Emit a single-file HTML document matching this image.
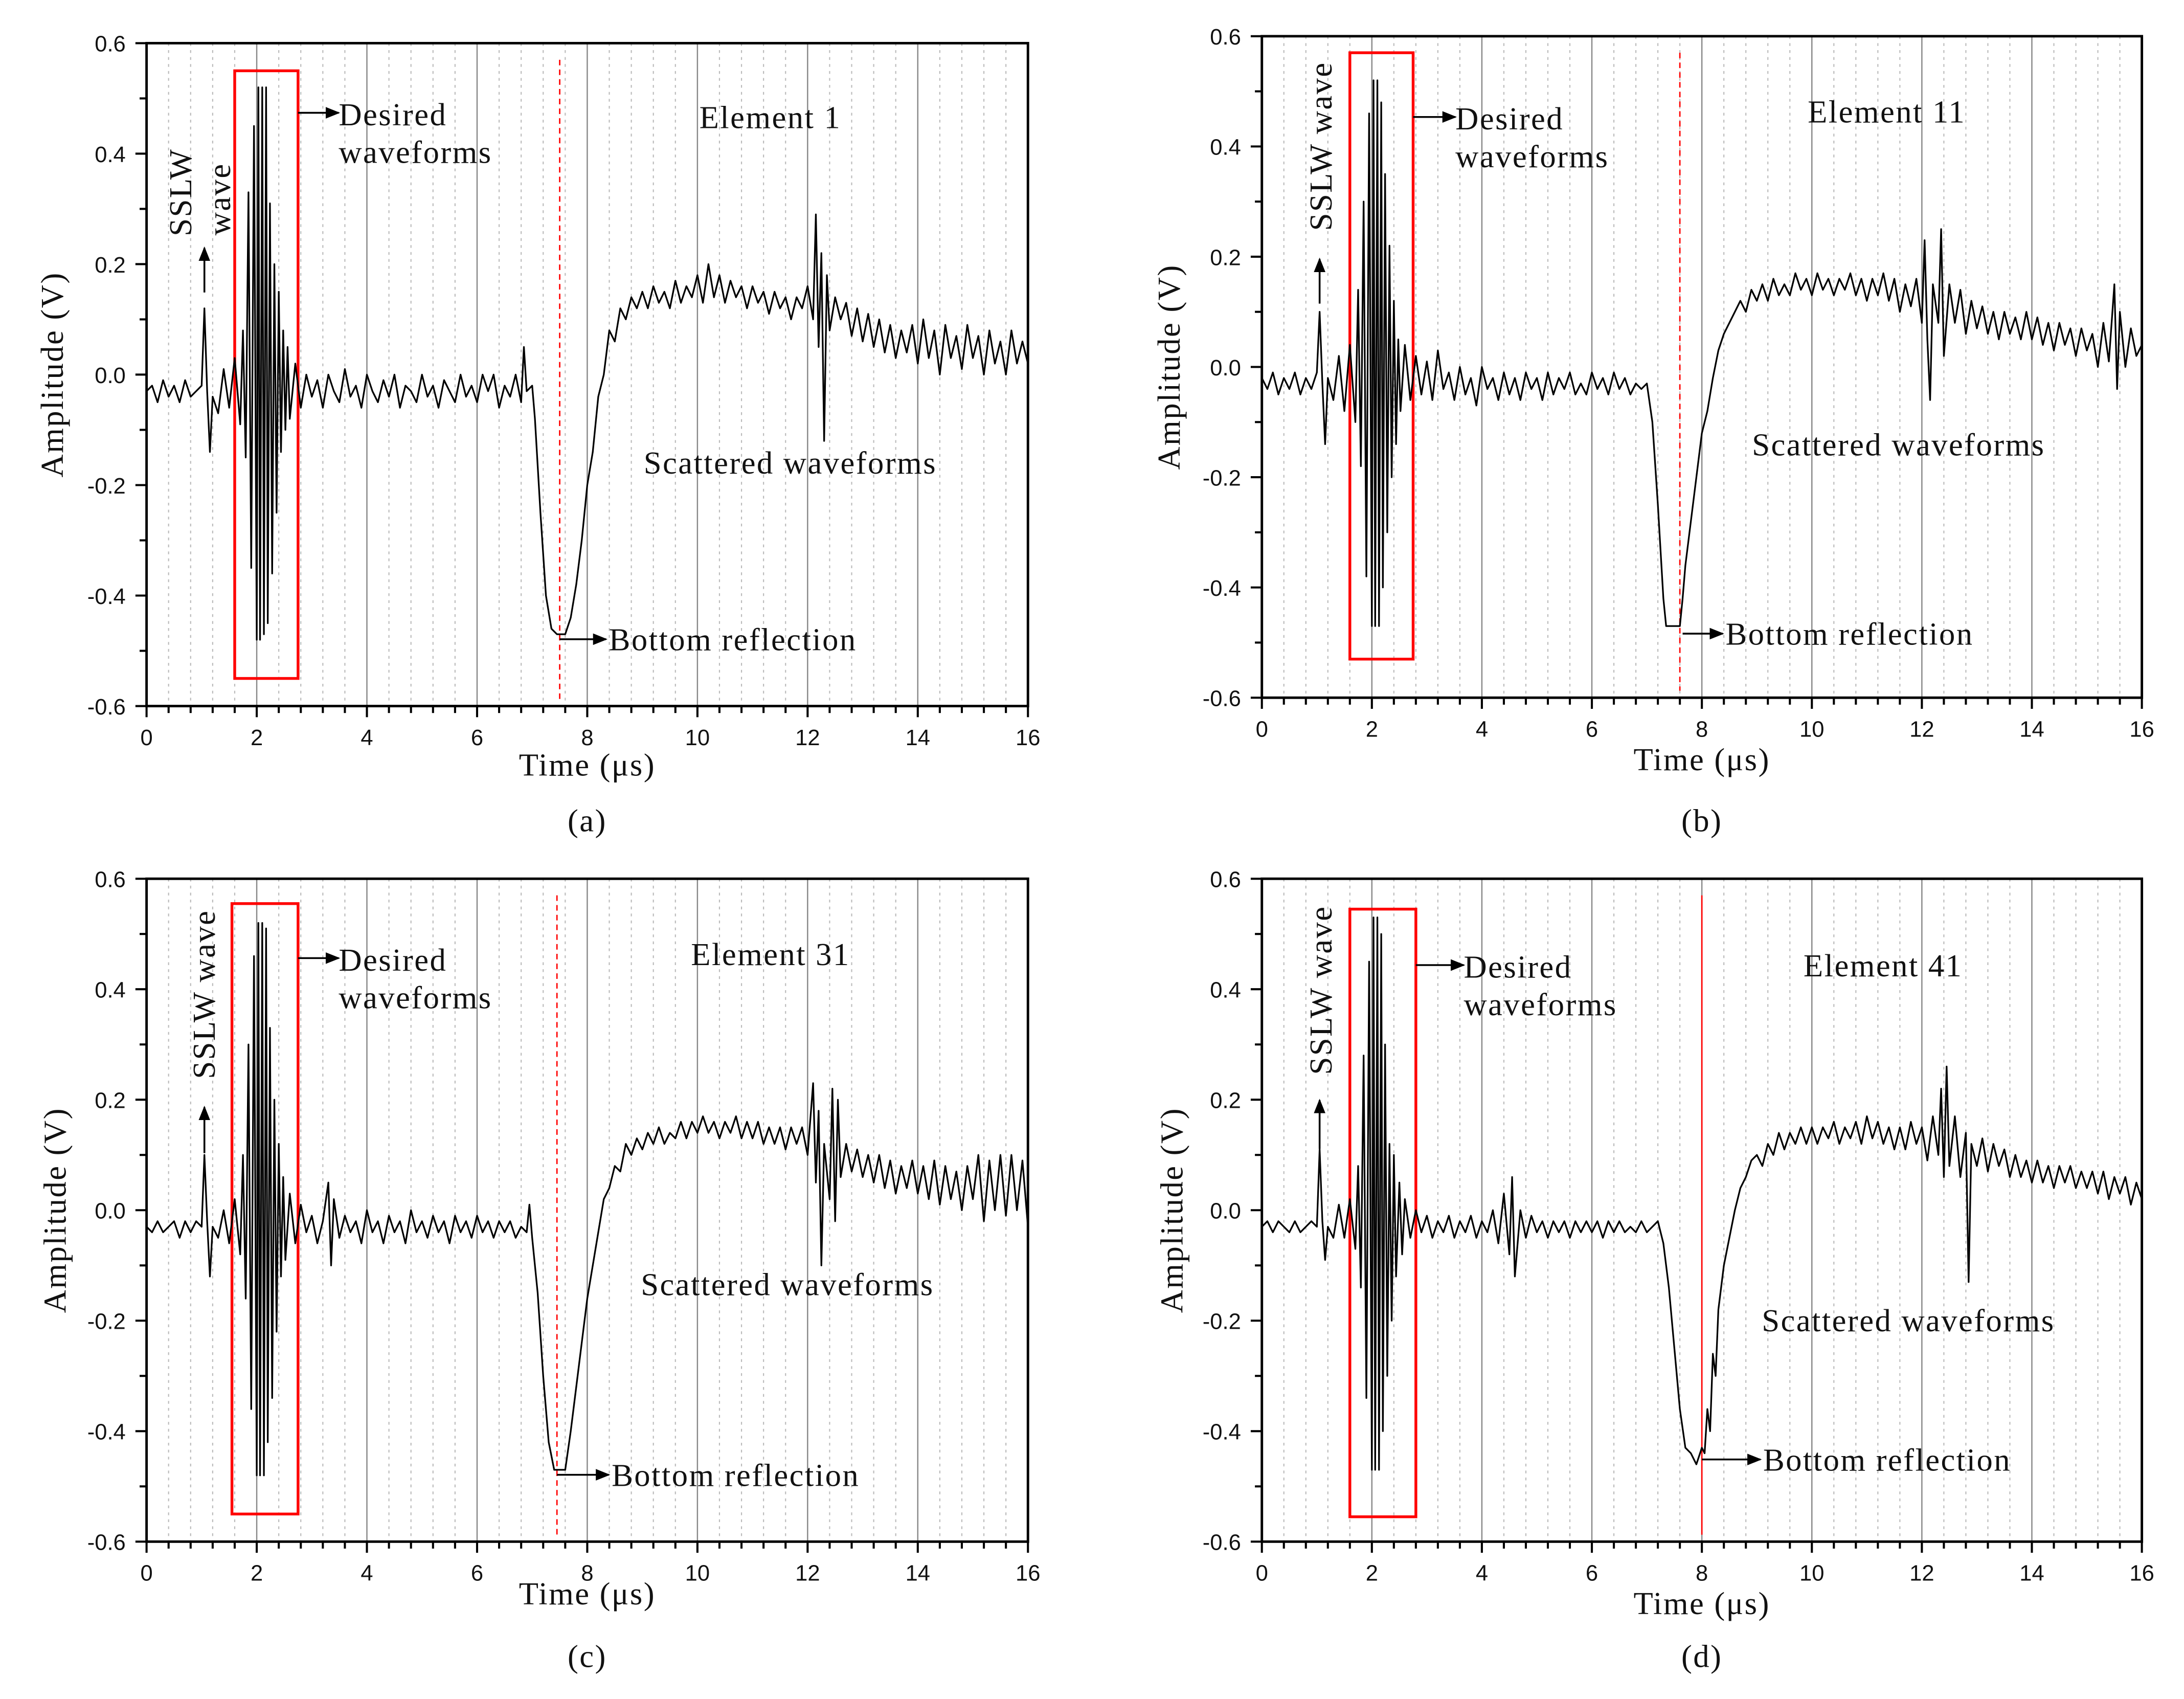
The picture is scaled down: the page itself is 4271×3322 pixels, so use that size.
<!DOCTYPE html>
<html><head><meta charset="utf-8"><style>
html,body{margin:0;padding:0;background:#fff;}
svg{display:block;}
.ser{font-family:"Liberation Serif",serif;fill:#111;letter-spacing:0.9px;}
.tk{font-family:"Liberation Sans",sans-serif;fill:#111;font-size:16px;}
</style></head><body>
<svg id="fig" width="4271" height="3322" viewBox="0 0 1568 1220" xmlns="http://www.w3.org/2000/svg">
<defs><marker id="ah" viewBox="0 0 10 10" refX="9" refY="5" markerWidth="8" markerHeight="8" orient="auto"><path d="M0,1 L10,5 L0,9 z" fill="#000"/></marker></defs>
</svg>
<script>
const xTicks=[0,2,4,6,8,10,12,14,16];
const yTicks=[-0.6,-0.4,-0.2,0.0,0.2,0.4,0.6];
const waveA=[[0,-0.03],[0.1,-0.02],[0.2,-0.05],[0.3,-0.01],[0.4,-0.04],[0.5,-0.02],[0.6,-0.05],[0.7,-0.01],[0.8,-0.04],[0.9,-0.03],[1.0,-0.02],[1.05,0.12],[1.1,-0.03],[1.15,-0.14],[1.2,-0.04],[1.3,-0.07],[1.4,0.01],[1.5,-0.06],[1.6,0.03],[1.7,-0.09],[1.75,0.08],[1.8,-0.15],[1.85,0.33],[1.9,-0.35],[1.95,0.45],[2.0,-0.48],[2.03,0.52],[2.06,-0.48],[2.1,0.52],[2.13,-0.47],[2.17,0.52],[2.2,-0.45],[2.24,0.31],[2.28,-0.36],[2.32,0.2],[2.36,-0.25],[2.4,0.15],[2.44,-0.14],[2.48,0.08],[2.52,-0.1],[2.56,0.05],[2.6,-0.08],[2.7,0.02],[2.8,-0.06],[2.9,0.0],[3.0,-0.04],[3.1,-0.01],[3.2,-0.06],[3.3,0.0],[3.4,-0.03],[3.5,-0.05],[3.6,0.01],[3.7,-0.04],[3.8,-0.02],[3.9,-0.06],[4.0,0.0],[4.1,-0.03],[4.2,-0.05],[4.3,-0.01],[4.4,-0.04],[4.5,0.0],[4.6,-0.06],[4.7,-0.02],[4.8,-0.03],[4.9,-0.05],[5.0,0.0],[5.1,-0.04],[5.2,-0.02],[5.3,-0.06],[5.4,-0.01],[5.5,-0.03],[5.6,-0.05],[5.7,0.0],[5.8,-0.04],[5.9,-0.02],[6.0,-0.05],[6.1,0.0],[6.2,-0.03],[6.3,0.0],[6.4,-0.06],[6.5,-0.02],[6.6,-0.04],[6.7,0.0],[6.8,-0.05],[6.85,0.05],[6.9,-0.03],[7.0,-0.02],[7.05,-0.08],[7.15,-0.25],[7.25,-0.4],[7.35,-0.46],[7.45,-0.47],[7.6,-0.47],[7.7,-0.44],[7.8,-0.38],[7.9,-0.3],[8.0,-0.2],[8.1,-0.14],[8.2,-0.04],[8.3,0.0],[8.4,0.08],[8.5,0.06],[8.6,0.12],[8.7,0.1],[8.8,0.14],[8.9,0.12],[9.0,0.15],[9.1,0.12],[9.2,0.16],[9.3,0.13],[9.4,0.15],[9.5,0.12],[9.6,0.17],[9.7,0.13],[9.8,0.16],[9.9,0.14],[10.0,0.18],[10.1,0.13],[10.2,0.2],[10.3,0.14],[10.4,0.18],[10.5,0.13],[10.6,0.17],[10.7,0.14],[10.8,0.16],[10.9,0.12],[11.0,0.16],[11.1,0.13],[11.2,0.15],[11.3,0.11],[11.4,0.15],[11.5,0.12],[11.6,0.14],[11.7,0.1],[11.8,0.14],[11.9,0.12],[12.0,0.16],[12.1,0.1],[12.15,0.29],[12.2,0.05],[12.25,0.22],[12.3,-0.12],[12.35,0.18],[12.4,0.08],[12.5,0.14],[12.6,0.1],[12.7,0.13],[12.8,0.07],[12.9,0.12],[13.0,0.06],[13.1,0.11],[13.2,0.05],[13.3,0.1],[13.4,0.04],[13.5,0.09],[13.6,0.03],[13.7,0.08],[13.8,0.04],[13.9,0.09],[14.0,0.02],[14.1,0.1],[14.2,0.03],[14.3,0.08],[14.4,0.0],[14.5,0.09],[14.6,0.03],[14.7,0.07],[14.8,0.01],[14.9,0.09],[15.0,0.03],[15.1,0.07],[15.2,0.0],[15.3,0.08],[15.4,0.02],[15.5,0.06],[15.6,0.0],[15.7,0.08],[15.8,0.02],[15.9,0.06],[16.0,0.02]];
const waveB=[[0,-0.02],[0.1,-0.04],[0.2,-0.01],[0.3,-0.05],[0.4,-0.02],[0.5,-0.04],[0.6,-0.01],[0.7,-0.05],[0.8,-0.02],[0.9,-0.04],[1.0,-0.01],[1.05,0.1],[1.1,-0.03],[1.15,-0.14],[1.2,-0.02],[1.3,-0.06],[1.4,0.02],[1.5,-0.08],[1.6,0.04],[1.7,-0.1],[1.75,0.14],[1.8,-0.18],[1.85,0.3],[1.9,-0.38],[1.95,0.46],[2.0,-0.47],[2.03,0.52],[2.06,-0.47],[2.1,0.52],[2.13,-0.47],[2.17,0.48],[2.2,-0.4],[2.24,0.35],[2.28,-0.3],[2.32,0.22],[2.36,-0.2],[2.4,0.12],[2.44,-0.14],[2.48,0.05],[2.52,-0.08],[2.6,0.04],[2.7,-0.06],[2.8,0.02],[2.9,-0.05],[3.0,0.01],[3.1,-0.06],[3.2,0.03],[3.3,-0.04],[3.4,-0.01],[3.5,-0.06],[3.6,0.0],[3.7,-0.05],[3.8,-0.02],[3.9,-0.07],[4.0,0.0],[4.1,-0.04],[4.2,-0.02],[4.3,-0.06],[4.4,-0.01],[4.5,-0.05],[4.6,-0.02],[4.7,-0.06],[4.8,-0.01],[4.9,-0.04],[5.0,-0.02],[5.1,-0.06],[5.2,-0.01],[5.3,-0.05],[5.4,-0.02],[5.5,-0.04],[5.6,-0.01],[5.7,-0.05],[5.8,-0.03],[5.9,-0.05],[6.0,-0.01],[6.1,-0.04],[6.2,-0.02],[6.3,-0.05],[6.4,-0.01],[6.5,-0.04],[6.6,-0.02],[6.7,-0.05],[6.8,-0.03],[6.9,-0.04],[7.0,-0.03],[7.1,-0.1],[7.2,-0.25],[7.3,-0.42],[7.35,-0.47],[7.6,-0.47],[7.65,-0.42],[7.7,-0.36],[7.8,-0.28],[7.9,-0.2],[8.0,-0.12],[8.1,-0.08],[8.2,-0.02],[8.3,0.03],[8.4,0.06],[8.5,0.08],[8.6,0.1],[8.7,0.12],[8.8,0.1],[8.9,0.14],[9.0,0.12],[9.1,0.15],[9.2,0.12],[9.3,0.16],[9.4,0.13],[9.5,0.15],[9.6,0.13],[9.7,0.17],[9.8,0.14],[9.9,0.16],[10.0,0.13],[10.1,0.17],[10.2,0.14],[10.3,0.16],[10.4,0.13],[10.5,0.16],[10.6,0.14],[10.7,0.17],[10.8,0.13],[10.9,0.16],[11.0,0.12],[11.1,0.16],[11.2,0.13],[11.3,0.17],[11.4,0.12],[11.5,0.16],[11.6,0.1],[11.7,0.15],[11.8,0.11],[11.9,0.16],[12.0,0.08],[12.05,0.23],[12.1,0.05],[12.15,-0.06],[12.2,0.15],[12.3,0.08],[12.35,0.25],[12.4,0.02],[12.5,0.15],[12.6,0.08],[12.7,0.14],[12.8,0.06],[12.9,0.12],[13.0,0.07],[13.1,0.11],[13.2,0.06],[13.3,0.1],[13.4,0.05],[13.5,0.1],[13.6,0.06],[13.7,0.09],[13.8,0.05],[13.9,0.1],[14.0,0.05],[14.1,0.09],[14.2,0.04],[14.3,0.08],[14.4,0.03],[14.5,0.08],[14.6,0.04],[14.7,0.07],[14.8,0.02],[14.9,0.07],[15.0,0.03],[15.1,0.06],[15.2,0.0],[15.3,0.08],[15.4,0.01],[15.5,0.15],[15.55,-0.04],[15.6,0.1],[15.7,0.0],[15.8,0.07],[15.9,0.02],[16.0,0.04]];
const waveC=[[0,-0.03],[0.1,-0.04],[0.2,-0.02],[0.3,-0.04],[0.4,-0.03],[0.5,-0.02],[0.6,-0.05],[0.7,-0.02],[0.8,-0.04],[0.9,-0.02],[1.0,-0.03],[1.05,0.1],[1.1,-0.02],[1.15,-0.12],[1.2,-0.03],[1.3,-0.05],[1.4,0.0],[1.5,-0.06],[1.6,0.02],[1.7,-0.08],[1.75,0.1],[1.8,-0.16],[1.85,0.3],[1.9,-0.36],[1.95,0.46],[2.0,-0.48],[2.03,0.52],[2.06,-0.48],[2.1,0.52],[2.13,-0.48],[2.17,0.51],[2.2,-0.42],[2.24,0.33],[2.28,-0.34],[2.32,0.2],[2.36,-0.22],[2.4,0.12],[2.44,-0.12],[2.48,0.06],[2.52,-0.09],[2.6,0.03],[2.7,-0.06],[2.8,0.01],[2.9,-0.04],[3.0,-0.01],[3.1,-0.06],[3.2,-0.02],[3.3,0.05],[3.35,-0.1],[3.4,0.02],[3.5,-0.05],[3.6,-0.01],[3.7,-0.04],[3.8,-0.02],[3.9,-0.06],[4.0,0.0],[4.1,-0.04],[4.2,-0.02],[4.3,-0.06],[4.4,-0.01],[4.5,-0.04],[4.6,-0.02],[4.7,-0.06],[4.8,0.0],[4.9,-0.04],[5.0,-0.02],[5.1,-0.05],[5.2,-0.01],[5.3,-0.04],[5.4,-0.02],[5.5,-0.06],[5.6,-0.01],[5.7,-0.04],[5.8,-0.02],[5.9,-0.05],[6.0,-0.01],[6.1,-0.04],[6.2,-0.02],[6.3,-0.05],[6.4,-0.02],[6.5,-0.04],[6.6,-0.02],[6.7,-0.05],[6.8,-0.03],[6.9,-0.04],[6.95,0.01],[7.0,-0.05],[7.1,-0.15],[7.2,-0.3],[7.3,-0.42],[7.4,-0.47],[7.6,-0.47],[7.7,-0.4],[7.8,-0.32],[7.9,-0.24],[8.0,-0.16],[8.1,-0.1],[8.2,-0.04],[8.3,0.02],[8.4,0.04],[8.5,0.08],[8.6,0.07],[8.7,0.12],[8.8,0.1],[8.9,0.13],[9.0,0.11],[9.1,0.14],[9.2,0.12],[9.3,0.15],[9.4,0.12],[9.5,0.14],[9.6,0.13],[9.7,0.16],[9.8,0.13],[9.9,0.16],[10.0,0.14],[10.1,0.17],[10.2,0.14],[10.3,0.16],[10.4,0.13],[10.5,0.16],[10.6,0.14],[10.7,0.17],[10.8,0.13],[10.9,0.16],[11.0,0.13],[11.1,0.16],[11.2,0.12],[11.3,0.15],[11.4,0.12],[11.5,0.15],[11.6,0.11],[11.7,0.15],[11.8,0.12],[11.9,0.15],[12.0,0.1],[12.1,0.23],[12.15,0.05],[12.2,0.18],[12.25,-0.1],[12.3,0.12],[12.4,0.02],[12.45,0.22],[12.5,-0.02],[12.55,0.2],[12.6,0.06],[12.7,0.12],[12.8,0.07],[12.9,0.11],[13.0,0.06],[13.1,0.1],[13.2,0.05],[13.3,0.1],[13.4,0.04],[13.5,0.09],[13.6,0.03],[13.7,0.08],[13.8,0.04],[13.9,0.09],[14.0,0.03],[14.1,0.08],[14.2,0.02],[14.3,0.09],[14.4,0.01],[14.5,0.08],[14.6,0.02],[14.7,0.07],[14.8,0.0],[14.9,0.08],[15.0,0.02],[15.1,0.1],[15.2,-0.02],[15.3,0.09],[15.4,0.0],[15.5,0.1],[15.6,-0.01],[15.7,0.1],[15.8,0.0],[15.9,0.09],[16.0,-0.03]];
const waveD=[[0,-0.03],[0.1,-0.02],[0.2,-0.04],[0.3,-0.02],[0.4,-0.03],[0.5,-0.04],[0.6,-0.02],[0.7,-0.04],[0.8,-0.03],[0.9,-0.02],[1.0,-0.03],[1.05,0.11],[1.1,-0.02],[1.15,-0.09],[1.2,-0.03],[1.3,-0.05],[1.4,0.01],[1.5,-0.05],[1.6,0.02],[1.7,-0.07],[1.75,0.08],[1.8,-0.14],[1.85,0.28],[1.9,-0.34],[1.95,0.45],[2.0,-0.47],[2.03,0.53],[2.06,-0.47],[2.1,0.53],[2.13,-0.47],[2.17,0.5],[2.2,-0.4],[2.24,0.3],[2.28,-0.3],[2.32,0.12],[2.36,-0.2],[2.4,0.1],[2.44,-0.12],[2.5,0.05],[2.55,-0.08],[2.6,0.02],[2.7,-0.05],[2.8,0.0],[2.9,-0.04],[3.0,-0.01],[3.1,-0.05],[3.2,-0.02],[3.3,-0.04],[3.4,-0.01],[3.5,-0.05],[3.6,-0.02],[3.7,-0.04],[3.8,-0.01],[3.9,-0.05],[4.0,-0.02],[4.1,-0.04],[4.2,0.0],[4.3,-0.06],[4.4,0.03],[4.5,-0.08],[4.55,0.06],[4.6,-0.12],[4.7,0.0],[4.8,-0.05],[4.9,-0.01],[5.0,-0.04],[5.1,-0.02],[5.2,-0.05],[5.3,-0.02],[5.4,-0.04],[5.5,-0.02],[5.6,-0.05],[5.7,-0.02],[5.8,-0.04],[5.9,-0.02],[6.0,-0.04],[6.1,-0.02],[6.2,-0.05],[6.3,-0.02],[6.4,-0.04],[6.5,-0.02],[6.6,-0.04],[6.7,-0.03],[6.8,-0.04],[6.9,-0.02],[7.0,-0.04],[7.1,-0.03],[7.2,-0.02],[7.3,-0.06],[7.4,-0.14],[7.5,-0.25],[7.6,-0.36],[7.7,-0.43],[7.8,-0.44],[7.9,-0.46],[8.0,-0.43],[8.05,-0.44],[8.1,-0.36],[8.15,-0.4],[8.2,-0.26],[8.25,-0.3],[8.3,-0.18],[8.4,-0.1],[8.5,-0.05],[8.6,0.0],[8.7,0.04],[8.8,0.06],[8.9,0.09],[9.0,0.1],[9.1,0.08],[9.2,0.12],[9.3,0.1],[9.4,0.14],[9.5,0.11],[9.6,0.14],[9.7,0.12],[9.8,0.15],[9.9,0.12],[10.0,0.15],[10.1,0.12],[10.2,0.15],[10.3,0.13],[10.4,0.16],[10.5,0.12],[10.6,0.15],[10.7,0.13],[10.8,0.16],[10.9,0.12],[11.0,0.17],[11.1,0.13],[11.2,0.16],[11.3,0.12],[11.4,0.15],[11.5,0.11],[11.6,0.15],[11.7,0.11],[11.8,0.16],[11.9,0.12],[12.0,0.15],[12.1,0.09],[12.2,0.17],[12.3,0.1],[12.35,0.22],[12.4,0.06],[12.45,0.26],[12.5,0.08],[12.6,0.17],[12.7,0.06],[12.8,0.14],[12.85,-0.13],[12.9,0.12],[13.0,0.08],[13.1,0.13],[13.2,0.07],[13.3,0.12],[13.4,0.08],[13.5,0.11],[13.6,0.06],[13.7,0.1],[13.8,0.06],[13.9,0.09],[14.0,0.05],[14.1,0.09],[14.2,0.05],[14.3,0.08],[14.4,0.04],[14.5,0.08],[14.6,0.05],[14.7,0.08],[14.8,0.04],[14.9,0.07],[15.0,0.04],[15.1,0.07],[15.2,0.03],[15.3,0.07],[15.4,0.02],[15.5,0.06],[15.6,0.03],[15.7,0.06],[15.8,0.01],[15.9,0.05],[16.0,0.02]];

const NS="http://www.w3.org/2000/svg";
const svg=document.getElementById('fig');
function mk(tag,attrs,parent,txt){const e=document.createElementNS(NS,tag);for(const k in attrs)e.setAttribute(k,attrs[k]);if(txt!==undefined)e.textContent=txt;(parent||svg).appendChild(e);return e;}
const FS=23;
const panels=[
 {id:'a',wave:waveA,x0:105,x1:738,yT:31,yB:507,box:[1.6,0.55,2.75,-0.55],marker:7.5,markerDash:true,el:'Element 1',elX:502,elY:92,desX:243,desY:90,scX:462,scY:340,brT:7.5,brV:-0.48,brTx:437,brY:467,sslwTwo:true,sslwArrowY:[210,178],timeY:557,labY:597,ampX:38},
 {id:'b',wave:waveB,x0:906,x1:1538,yT:26,yB:501,box:[1.6,0.57,2.75,-0.53],marker:7.6,markerDash:true,el:'Element 11',elX:1298,elY:88,desX:1045,desY:93,scX:1258,scY:327,brT:7.65,brV:-0.47,brTx:1239,brY:463,sslwTwo:false,sslwX:948,sslwY:105,sslwArrowY:[218,186],timeY:553,labY:597,ampX:840},
 {id:'c',wave:waveC,x0:105,x1:738,yT:631,yB:1107,box:[1.55,0.555,2.75,-0.55],marker:7.45,markerDash:true,el:'Element 31',elX:496,elY:693,desX:243,desY:697,scX:460,scY:930,brT:7.45,brV:-0.48,brTx:439,brY:1067,sslwTwo:false,sslwX:146,sslwY:714,sslwArrowY:[828,795],timeY:1152,labY:1197,ampX:40},
 {id:'d',wave:waveD,x0:906,x1:1538,yT:631,yB:1107,box:[1.6,0.545,2.8,-0.555],marker:8.0,markerDash:false,el:'Element 41',elX:1295,elY:701,desX:1051,desY:702,scX:1265,scY:956,brT:8.0,brV:-0.44,brTx:1266,brY:1056,sslwTwo:false,sslwX:948,sslwY:711,sslwArrowY:[825,790],timeY:1159,labY:1197,ampX:842}
];

panels.forEach(p=>{
 const g=mk('g',{});
 
 
 const X=t=>p.x0+(t/16)*(p.x1-p.x0);
 const Y=v=>p.yB-((v+0.6)/1.2)*(p.yB-p.yT);
 for(let i=1;i<40;i++){const t=i*0.4;if(i%5===0)continue;
  const l=mk('line',{x1:X(t),x2:X(t),y1:p.yT,y2:p.yB,stroke:'#bbb','stroke-width':0.8,'stroke-dasharray':'2,3'},g);
  
  }
 xTicks.forEach((t,i)=>{if(i>0&&i<xTicks.length-1){
  const l=mk('line',{x1:X(t),x2:X(t),y1:p.yT,y2:p.yB,stroke:'#888','stroke-width':0.9},g);
  
  }});
 const bx=mk('rect',{x:X(p.box[0]),y:Y(p.box[1]),width:X(p.box[2])-X(p.box[0]),height:Y(p.box[3])-Y(p.box[1]),fill:'none',stroke:'#f00','stroke-width':2},g);
 
 
 const ml=mk('line',{x1:X(p.marker),x2:X(p.marker),y1:Y(0.57),y2:p.yB-5,stroke:'#f00','stroke-width':1,'stroke-dasharray':p.markerDash?'4,3':'none'},g);
 
 
 const d=p.wave.map((pt,i)=>(i?'L':'M')+X(pt[0]).toFixed(2)+','+Y(pt[1]).toFixed(2)).join(' ');
 const w=mk('path',{d:d,fill:'none',stroke:'#000','stroke-width':1.2,'stroke-linejoin':'round'},g);
 
 
 const fr=mk('rect',{x:p.x0,y:p.yT,width:p.x1-p.x0,height:p.yB-p.yT,fill:'none',stroke:'#000','stroke-width':1.8},g);
 
 
 for(let i=0;i<=40;i++){const t=i*0.4;const maj=(i%5===0);
  mk('line',{x1:X(t),x2:X(t),y1:p.yB,y2:p.yB+(maj?8:5),stroke:'#000','stroke-width':1.5},g);}
 xTicks.forEach(t=>{const tx=mk('text',{x:X(t),y:p.yB+28,'text-anchor':'middle',class:'tk'},g,String(t));
  
  });
 for(let i=0;i<=12;i++){const v=-0.6+i*0.1;const maj=(i%2===0);
  mk('line',{x1:p.x0-(maj?8:5),x2:p.x0,y1:Y(v),y2:Y(v),stroke:'#000','stroke-width':1.5},g);}
 yTicks.forEach(v=>{const tx=mk('text',{x:p.x0-15,y:Y(v)+6,'text-anchor':'end',class:'tk'},g,v.toFixed(1));
  
  });
 const yt=mk('text',{x:0,y:0,transform:`translate(${p.ampX+7},${(p.yT+p.yB)/2}) rotate(-90)`,'text-anchor':'middle',class:'ser','font-size':FS},g,'Amplitude (V)');
 
 
 const xt=mk('text',{x:(p.x0+p.x1)/2,y:p.timeY,'text-anchor':'middle',class:'ser','font-size':FS},g,'Time (μs)');
 
 
 const lb=mk('text',{x:(p.x0+p.x1)/2,y:p.labY,'text-anchor':'middle',class:'ser','font-size':FS},g,'('+p.id+')');
 
 
 const el=mk('text',{x:p.elX,y:p.elY,class:'ser','font-size':FS},g,p.el);
 
 
 const bxR=X(p.box[2]);
 const ar=mk('line',{x1:bxR,x2:p.desX,y1:p.desY-9,y2:p.desY-9,stroke:'#000','stroke-width':1.3,'marker-end':'url(#ah)'},g);
 
 
 const d1=mk('text',{x:p.desX,y:p.desY,class:'ser','font-size':FS},g,'Desired');
 
 
 const d2=mk('text',{x:p.desX,y:p.desY+27,class:'ser','font-size':FS},g,'waveforms');
 
 
 const sc=mk('text',{x:p.scX,y:p.scY,class:'ser','font-size':FS},g,'Scattered waveforms');
 
 
 const ba=mk('line',{x1:X(p.brT),x2:p.brTx-2,y1:p.brY-8,y2:p.brY-8,stroke:'#000','stroke-width':1.3,'marker-end':'url(#ah)'},g);
 
 
 const bt=mk('text',{x:p.brTx,y:p.brY,class:'ser','font-size':FS},g,'Bottom reflection');
 
 
 const sa=mk('line',{x1:X(1.05),x2:X(1.05),y1:p.sslwArrowY[0],y2:p.sslwArrowY[1],stroke:'#000','stroke-width':1.3,'marker-end':'url(#ah)'},g);
 
 
 if(p.sslwTwo){
  const s1=mk('text',{x:0,y:0,transform:'translate(137,138) rotate(-90)','text-anchor':'middle',class:'ser','font-size':FS},g,'SSLW');
  
  
  const s2=mk('text',{x:0,y:0,transform:'translate(165,143) rotate(-90)','text-anchor':'middle',class:'ser','font-size':FS},g,'wave');
  
  
 } else {
  const s1=mk('text',{x:0,y:0,transform:`translate(${p.sslwX+8},${p.sslwY}) rotate(-90)`,'text-anchor':'middle',class:'ser','font-size':FS},g,'SSLW wave');
  
  
 }
});
</script>
</body></html>
